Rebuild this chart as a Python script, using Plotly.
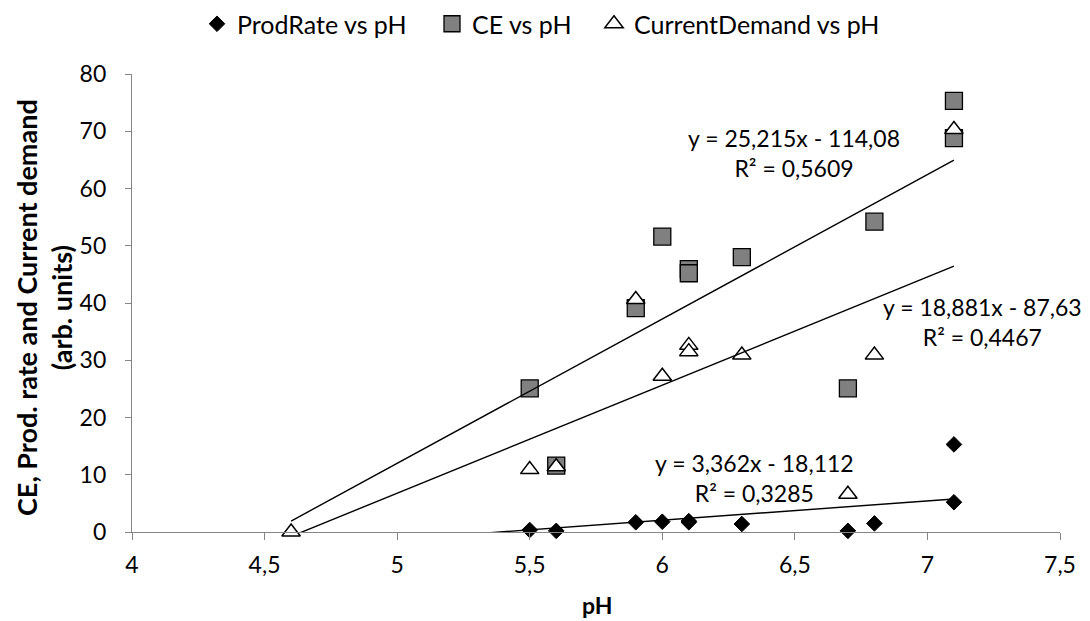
import plotly.graph_objects as go
import numpy as np

# Data
ph_cd = [4.6, 5.5, 5.6, 5.9, 6.0, 6.1, 6.1, 6.3, 6.7, 6.8, 7.1, 7.1]
ph = [5.5, 5.6, 5.9, 6.0, 6.1, 6.1, 6.3, 6.7, 6.8, 7.1, 7.1]
prod_rate = [0.35, 0.2, 1.7, 1.8, 1.9, 1.7, 1.4, 0.2, 1.5, 15.3, 5.2]
ce = [25.1, 11.6, 39.1, 51.6, 45.9, 45.2, 48.0, 25.1, 54.2, 75.3, 68.8]
current_demand = [0.0, 10.9, 11.4, 40.6, 27.2, 32.6, 31.5, 30.9, 6.6, 30.9, 70.3]

series_names = ["ProdRate vs pH", "CE vs pH", "CurrentDemand vs pH"]
# Linear trend line coefficients (as printed on the chart)
slopes = [3.362, 25.215, 18.881]
intercepts = [-18.112, -114.08, -87.63]
r2_values = [0.3285, 0.5609, 0.4467]

x_ticks = [4, 4.5, 5, 5.5, 6, 6.5, 7, 7.5]
x_tick_text = ["4", "4,5", "5", "5,5", "6", "6,5", "7", "7,5"]
y_ticks = [0, 10, 20, 30, 40, 50, 60, 70, 80]

FONT = "Lato"
# the page body adds an 8px offset; compensate so the plot lands where the reference has it
OFF = 8
W, H = 1090 - OFF, 621 - OFF
L, R, T, B = 132 - OFF, 30, 74 - OFF, 89
plot_w = W - L - R
plot_h = H - T - B


def px_x(sx):
    return (sx - 132) / plot_w


def px_y(sy):
    return (532 - sy) / plot_h


fig = go.Figure()

fig.add_trace(go.Scatter(
    x=ph, y=prod_rate, mode="markers", name=series_names[0], legend="legend",
    marker=dict(symbol="diamond", size=12, color="black",
                line=dict(color="black", width=1)),
    cliponaxis=False,
))
fig.add_trace(go.Scatter(
    x=ph, y=ce, mode="markers", name=series_names[1], legend="legend2",
    marker=dict(symbol="square", size=17, color="#808080",
                line=dict(color="black", width=1.3)),
    cliponaxis=False,
))
fig.add_trace(go.Scatter(
    x=ph_cd, y=current_demand, mode="markers", name=series_names[2], legend="legend3",
    marker=dict(symbol="triangle-up", size=16, color="white",
                line=dict(color="black", width=1.5)),
    cliponaxis=False,
))

# Trend lines across the full pH range of the data
xfit = np.array([min(ph_cd), max(ph_cd)])
for m, b in zip(slopes, intercepts):
    fig.add_trace(go.Scatter(
        x=xfit, y=m * xfit + b, mode="lines",
        line=dict(color="black", width=1.4),
        showlegend=False, hoverinfo="skip",
    ))


def fmt(v, nd):
    return f"{v:.{nd}f}".replace(".", ",")


eq_texts = [
    f"y = {fmt(slopes[0], 3)}x - {fmt(-intercepts[0], 3)}<br>R² = {fmt(r2_values[0], 4)}",
    f"y = {fmt(slopes[1], 3)}x - {fmt(-intercepts[1], 2)}<br>R² = {fmt(r2_values[1], 4)}",
    f"y = {fmt(slopes[2], 3)}x - {fmt(-intercepts[2], 2)}<br>R² = {fmt(r2_values[2], 4)}",
]
eq_pos = [(6.349, 9.4), (6.496, 66.2), (7.209, 36.7)]
for t, (ex, ey) in zip(eq_texts, eq_pos):
    fig.add_annotation(x=ex, y=ey, xref="x", yref="y", text=t, showarrow=False,
                       align="center", xanchor="center", yanchor="middle",
                       font=dict(family=FONT, size=23, color="black"))

# Axis titles as annotations
fig.add_annotation(
    x=px_x(44), y=px_y(308), xref="paper", yref="paper",
    text="<b>CE, Prod. rate and Current demand<br>(arb. units)</b>",
    textangle=-90, showarrow=False, xanchor="center", yanchor="middle",
    align="center", font=dict(family=FONT, size=27, color="black"),
)
fig.add_annotation(
    x=px_x(597), y=px_y(605), xref="paper", yref="paper",
    text="<b>pH</b>", showarrow=False, xanchor="center", yanchor="middle",
    font=dict(family=FONT, size=23, color="black"),
)

leg_common = dict(orientation="h", xanchor="left", yanchor="middle",
                  y=px_y(24), font=dict(family=FONT, size=25, color="black"),
                  itemwidth=30, bgcolor="rgba(0,0,0,0)", borderwidth=0)

fig.update_layout(
    width=W, height=H,
    margin=dict(l=L, r=R, t=T, b=B, autoexpand=False),
    paper_bgcolor="white", plot_bgcolor="white",
    font=dict(family=FONT, size=20, color="black"),
    showlegend=True,
    legend=dict(x=px_x(197), **leg_common),
    legend2=dict(x=px_x(432), **leg_common),
    legend3=dict(x=px_x(594), **leg_common),
    xaxis=dict(range=[4, 7.5], tickvals=x_ticks, ticktext=x_tick_text,
               showgrid=False, zeroline=False, showline=True,
               linecolor="#868686", linewidth=1.3,
               ticks="outside", ticklen=7, tickcolor="#868686", tickwidth=1.3,
               ticklabelstandoff=5,
               tickfont=dict(family=FONT, size=23, color="black")),
    yaxis=dict(range=[0, 80], tickvals=y_ticks,
               showgrid=False, zeroline=False, showline=True,
               linecolor="#868686", linewidth=1.3,
               ticks="outside", ticklen=6, tickcolor="#868686", tickwidth=1.3,
               ticklabelstandoff=14,
               tickfont=dict(family=FONT, size=23, color="black")),
)

fig.write_html("out.html")
